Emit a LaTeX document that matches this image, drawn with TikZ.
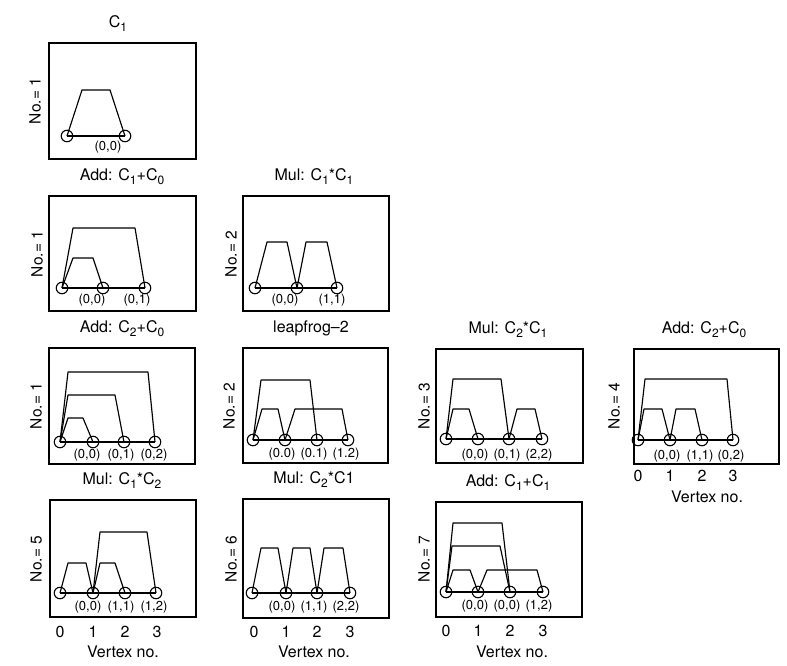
\documentclass[tikz,border=0pt]{standalone}
\usepackage{fontspec}
\setmainfont{TeX Gyre Heros}
\newcommand\lowsub[1]{\raisebox{-4pt}{\fontsize{12}{12}\selectfont #1}}
\newcommand\trap[5]{\draw[link] (#1.center) -- ([shift={(#3,-#5)}]#1.center) -- ([shift={(-#4,-#5)}]#2.center) -- (#2.center);}
\tikzset{
  frame/.style={draw, line width=1.3pt},
  vtx/.style={circle, draw, line width=1.1pt, minimum size=11.5pt, inner sep=0pt},
  link/.style={line width=1.15pt, line join=round},
  ttl/.style={anchor=base, font=\fontsize{16}{18}\selectfont, inner sep=0pt},
  ylab/.style={rotate=90, font=\fontsize{15.5}{17}\selectfont, inner sep=0pt},
  plab/.style={font=\fontsize{13}{15}\selectfont, inner sep=0pt},
  tck/.style={font=\fontsize{16}{18}\selectfont, inner sep=0pt},
}
\begin{document}
\begin{tikzpicture}[x=1pt,y=-1pt]
\useasboundingbox (0,0) rectangle (787,665);

% ---------- Panel 1
\draw[frame] (49,43) rectangle (196,159);
\node[ttl] (t1) at (118,27) {C\lowsub{1}};
\node[ylab] (y1) at (35,101) {No.= 1};
\node[vtx] (a0) at (67,136) {};
\node[vtx] (a1) at (125,136) {};
\draw[link] (a0.center) -- (a1.center);
\trap{a0}{a1}{15}{15}{46}
\node[plab] (la1) at (108,147) {(0,0)};

% ---------- Panel 2
\draw[frame] (49,196) rectangle (196,311);
\node[ttl] (t2) at (122,180) {Add: C\lowsub{1}+C\lowsub{0}};
\node[ylab] (y2) at (37,254) {No.= 1};
\node[vtx] (b0) at (62,288) {};
\node[vtx] (b1) at (103,288) {};
\node[vtx] (b2) at (145,288) {};
\draw[link] (b0.center) -- (b2.center);
\trap{b0}{b1}{11}{10}{30}
\trap{b0}{b2}{11}{10}{60}
\node[plab] (lb1) at (92,300) {(0,0)};
\node[plab] (lb2) at (137,300) {(0,1)};

% ---------- Panel 3
\draw[frame] (243,196) rectangle (389,311);
\node[ttl] (t3) at (314,180) {Mul: C\lowsub{1}*C\lowsub{1}};
\node[ylab] (y3) at (231,254) {No.= 2};
\node[vtx] (c0) at (255,288) {};
\node[vtx] (c1) at (297,288) {};
\node[vtx] (c2) at (337,288) {};
\draw[link] (c0.center) -- (c2.center);
\trap{c0}{c1}{12}{10}{46}
\trap{c1}{c2}{9}{10}{46}
\node[plab] (lc1) at (285,300) {(0,0)};
\node[plab] (lc2) at (332,300) {(1,1)};

% ---------- Panel 4
\draw[frame] (49,348) rectangle (195,464);
\node[ttl] (t4) at (122,332) {Add: C\lowsub{2}+C\lowsub{0}};
\node[ylab] (y4) at (36,406) {No.= 1};
\node[vtx] (d0) at (60,442) {};
\node[vtx] (d1) at (93,442) {};
\node[vtx] (d2) at (124,442) {};
\node[vtx] (d3) at (155,442) {};
\draw[link] (d0.center) -- (d3.center);
\trap{d0}{d1}{8}{10}{24}
\trap{d0}{d2}{8}{9}{47}
\trap{d0}{d3}{8}{7}{70}
\node[plab] (ld1) at (87,455) {(0,0)};
\node[plab] (ld2) at (121,455) {(0,1)};
\node[plab] (ld3) at (154,455) {(0,2)};

% ---------- Panel 5
\draw[frame] (243,348) rectangle (388,463);
\node[ttl] (t5) at (311,332) {leapfrog–2};
\node[ylab] (y5) at (229,406) {No.= 2};
\node[vtx] (e0) at (253,440) {};
\node[vtx] (e1) at (285,440) {};
\node[vtx] (e2) at (317,440) {};
\node[vtx] (e3) at (348,440) {};
\draw[link] (e0.center) -- (e3.center);
\trap{e0}{e2}{8}{7}{60}
\trap{e0}{e1}{9}{7}{31}
\trap{e1}{e3}{10}{6}{31}
\node[plab] (le1) at (282,454) {(0.0)};
\node[plab] (le2) at (314,454) {(0.1)};
\node[plab] (le3) at (346,454) {(1.2)};

% ---------- Panel 6
\draw[frame] (436,349) rectangle (583,463);
\node[ttl] (t6) at (508,333) {Mul: C\lowsub{2}*C\lowsub{1}};
\node[ylab] (y6) at (424,406) {No.= 3};
\node[vtx] (f0) at (446,439) {};
\node[vtx] (f1) at (478,439) {};
\node[vtx] (f2) at (509,439) {};
\node[vtx] (f3) at (542,439) {};
\draw[link] (f0.center) -- (f3.center);
\trap{f0}{f2}{7}{8}{60}
\trap{f0}{f1}{7}{9}{30}
\trap{f2}{f3}{8}{7}{30}
\node[plab] (lf1) at (475,455) {(0,0)};
\node[plab] (lf2) at (507,455) {(0,1)};
\node[plab] (lf3) at (539,455) {(2,2)};

% ---------- Panel 7
\draw[frame] (634,349) rectangle (779,464);
\node[ttl] (t7) at (704,333) {Add: C\lowsub{2}+C\lowsub{0}};
\node[ylab] (y7) at (614,406) {No.= 4};
\node[vtx] (g0) at (638,440) {};
\node[vtx] (g1) at (670,440) {};
\node[vtx] (g2) at (702,440) {};
\node[vtx] (g3) at (733,440) {};
\draw[link] (g0.center) -- (g3.center);
\trap{g0}{g3}{7}{6}{61}
\trap{g0}{g1}{6}{8}{31}
\trap{g1}{g2}{6}{7}{31}
\node[plab] (lg1) at (667,456) {(0,0)};
\node[plab] (lg2) at (700,456) {(1,1)};
\node[plab] (lg3) at (731,456) {(0,2)};
\node[tck] (xg0) at (638,476) {0};
\node[tck] (xg1) at (670,476) {1};
\node[tck] (xg2) at (702,476) {2};
\node[tck] (xg3) at (733,476) {3};
\node[tck] (vg) at (707,497) {Vertex no.};

% ---------- Panel 8
\draw[frame] (50,500) rectangle (196,617);
\node[ttl] (t8) at (122,484) {Mul: C\lowsub{1}*C\lowsub{2}};
\node[ylab] (y8) at (36,559) {No.= 5};
\node[vtx] (h0) at (60,593) {};
\node[vtx] (h1) at (93,593) {};
\node[vtx] (h2) at (125,593) {};
\node[vtx] (h3) at (156,593) {};
\draw[link] (h0.center) -- (h3.center);
\trap{h0}{h1}{8}{7}{30}
\trap{h1}{h2}{7}{10}{30}
\trap{h1}{h3}{7}{9}{61}
\node[plab] (lh1) at (88,607) {(0,0)};
\node[plab] (lh2) at (121,607) {(1,1)};
\node[plab] (lh3) at (154,607) {(1,2)};
\node[tck] (xh0) at (60,632) {0};
\node[tck] (xh1) at (93,632) {1};
\node[tck] (xh2) at (125,632) {2};
\node[tck] (xh3) at (157,632) {3};
\node[tck] (vh) at (123,652) {Vertex no.};

% ---------- Panel 9
\draw[frame] (243,499) rectangle (389,618);
\node[ttl] (t9) at (314,483) {Mul: C\lowsub{2}*C1};
\node[ylab] (y9) at (231,559) {No.= 6};
\node[vtx] (i0) at (252,593) {};
\node[vtx] (i1) at (286,593) {};
\node[vtx] (i2) at (317,593) {};
\node[vtx] (i3) at (350,593) {};
\draw[link] (i0.center) -- (i3.center);
\trap{i0}{i1}{9}{8}{45}
\trap{i1}{i2}{7}{7}{45}
\trap{i2}{i3}{7}{7}{45}
\node[plab] (li1) at (282,607) {(0,0)};
\node[plab] (li2) at (314,607) {(1,1)};
\node[plab] (li3) at (346,607) {(2,2)};
\node[tck] (xi0) at (254,632) {0};
\node[tck] (xi1) at (286,632) {1};
\node[tck] (xi2) at (317,632) {2};
\node[tck] (xi3) at (350,632) {3};
\node[tck] (vi) at (314,652) {Vertex no.};

% ---------- Panel 10
\draw[frame] (436,502) rectangle (582,617);
\node[ttl] (t10) at (508,486) {Add: C\lowsub{1}+C\lowsub{1}};
\node[ylab] (y10) at (424,559) {No.= 7};
\node[vtx] (j0) at (446,592) {};
\node[vtx] (j1) at (478,592) {};
\node[vtx] (j2) at (510,592) {};
\node[vtx] (j3) at (543,592) {};
\draw[link] (j0.center) -- (j3.center);
\trap{j0}{j2}{7}{8}{69}
\trap{j0}{j2}{6}{10}{46}
\trap{j0}{j1}{7}{8}{22}
\trap{j1}{j3}{9}{6}{22}
\node[plab] (lj1) at (475,606) {(0,0)};
\node[plab] (lj2) at (507,606) {(0,0)};
\node[plab] (lj3) at (539,606) {(1,2)};
\node[tck] (xj0) at (446,631) {0};
\node[tck] (xj1) at (478,631) {1};
\node[tck] (xj2) at (510,631) {2};
\node[tck] (xj3) at (543,631) {3};
\node[tck] (vj) at (512,652) {Vertex no.};
\end{tikzpicture}
\end{document}
